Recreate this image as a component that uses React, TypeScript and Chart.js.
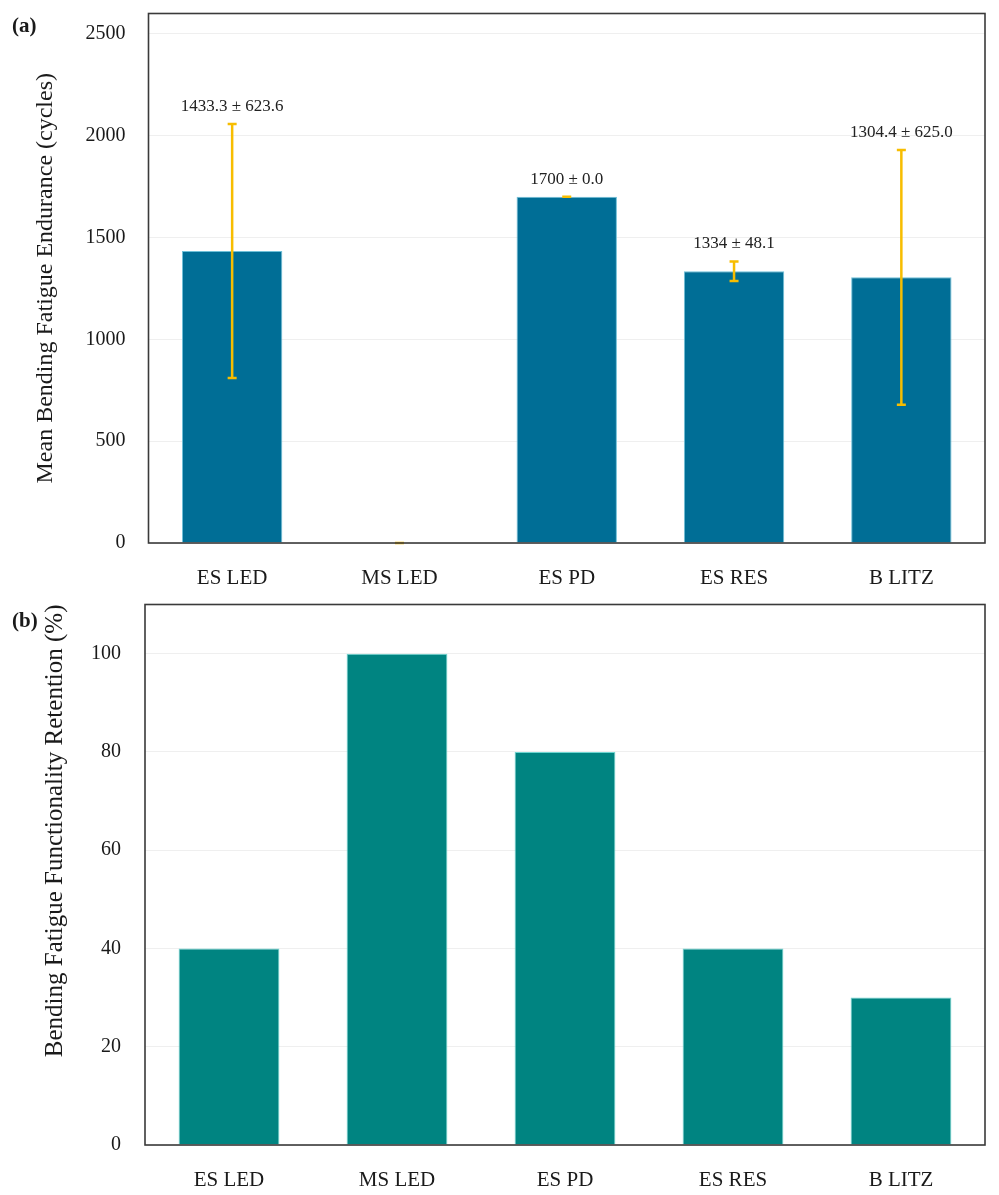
import { useEffect, useRef } from 'react'
import { Chart, registerables } from 'chart.js'
import type { Plugin } from 'chart.js'

Chart.register(...registerables)

const FONT = "'Liberation Serif', 'Times New Roman', serif"

const CATEGORIES = ['ES LED', 'MS LED', 'ES PD', 'ES RES', 'B LITZ']
const ENDURANCE_MEAN = [1433.3, 0, 1700, 1334, 1304.4]
const ENDURANCE_SD = [623.6, 0, 0, 48.1, 625.0]
const ENDURANCE_LABELS = ['1433.3 ± 623.6', '', '1700 ± 0.0', '1334 ± 48.1', '1304.4 ± 625.0']
const RETENTION = [40, 100, 80, 40, 30]

const ENDURANCE_TICKS = [0, 500, 1000, 1500, 2000, 2500]
const RETENTION_TICKS = [0, 20, 40, 60, 80, 100]

const frameBox: Plugin<'bar'> = {
  id: 'frameBox',
  afterDraw(chart) {
    const { ctx, chartArea: a } = chart
    ctx.save()
    ctx.strokeStyle = '#3a3a3a'
    ctx.lineWidth = 1.6
    ctx.strokeRect(a.left, a.top, a.right - a.left, a.bottom - a.top)
    ctx.restore()
  },
}

const errorBars: Plugin<'bar'> = {
  id: 'errorBars',
  afterDatasetsDraw(chart) {
    const { ctx } = chart
    const x = chart.scales.x
    const y = chart.scales.y
    ctx.save()
    ctx.strokeStyle = '#f7bd00'
    ctx.lineWidth = 2.5
    ENDURANCE_MEAN.forEach((m, i) => {
      const px = x.getPixelForValue(i)
      const top = y.getPixelForValue(m + ENDURANCE_SD[i])
      const bot = y.getPixelForValue(m - ENDURANCE_SD[i])
      ctx.beginPath()
      ctx.moveTo(px, top)
      ctx.lineTo(px, bot)
      ctx.moveTo(px - 4.5, top)
      ctx.lineTo(px + 4.5, top)
      ctx.moveTo(px - 4.5, bot)
      ctx.lineTo(px + 4.5, bot)
      ctx.stroke()
      if (ENDURANCE_LABELS[i]) {
        ctx.fillStyle = '#222'
        ctx.font = `17px ${FONT}`
        ctx.textAlign = 'center'
        ctx.textBaseline = 'bottom'
        ctx.fillText(ENDURANCE_LABELS[i], px, top - 9)
      }
    })
    ctx.restore()
  },
}

function buildOptions(opts: {
  max: number
  ticks: number[]
  title: string
  titleSize: number
  titleAlign: 'center' | 'end'
  titlePad: number
  yWidth: number
  xHeight: number
  top: number
  tickPad: number
}): any {
  return {
    responsive: true,
    maintainAspectRatio: false,
    animation: false,
    layout: { padding: { top: opts.top, right: 14, left: 0, bottom: 0 } },
    plugins: { legend: { display: false }, tooltip: { enabled: false } },
    scales: {
      x: {
        grid: { display: false, drawTicks: false },
        border: { display: false },
        ticks: { color: '#1a1a1a', font: { family: FONT, size: 21 }, padding: 23 },
        afterFit: (s: any) => {
          s.height = opts.xHeight
          s.paddingLeft = 0
          s.paddingRight = 0
        },
      },
      y: {
        min: 0,
        max: opts.max,
        grid: { color: '#efefef', lineWidth: 1, drawTicks: false },
        border: { display: false },
        ticks: {
          color: '#1a1a1a',
          font: { family: FONT, size: 20 },
          padding: opts.tickPad,
          callback: (v: number) => String(v),
        },
        afterBuildTicks: (s: any) => {
          s.ticks = opts.ticks.map((v) => ({ value: v }))
        },
        title: {
          display: true,
          text: opts.title,
          align: opts.titleAlign,
          color: '#1a1a1a',
          font: { family: FONT, size: opts.titleSize },
          padding: { top: opts.titlePad, bottom: 0 },
        },
        afterFit: (s: any) => {
          s.width = opts.yWidth
          s.paddingTop = 0
          s.paddingBottom = 0
        },
      },
    },
  }
}

function EnduranceChart() {
  const ref = useRef<HTMLCanvasElement>(null)
  useEffect(() => {
    if (!ref.current) return
    const chart = new Chart(ref.current, {
      type: 'bar',
      data: {
        labels: CATEGORIES,
        datasets: [
          {
            data: ENDURANCE_MEAN,
            backgroundColor: '#006e96',
            borderColor: '#6fc0d8',
            borderWidth: 1,
            barPercentage: 0.75,
            categoryPercentage: 0.8,
          },
        ],
      },
      options: buildOptions({
        max: 2600,
        ticks: ENDURANCE_TICKS,
        title: 'Mean Bending Fatigue Endurance (cycles)',
        titleSize: 24,
        titleAlign: 'center',
        titlePad: 31,
        yWidth: 148.5,
        xHeight: 52,
        top: 13.5,
        tickPad: 23,
      }),
      plugins: [errorBars, frameBox],
    })
    return () => chart.destroy()
  }, [])
  return (
    <div style={{ position: 'relative', width: 999, height: 595 }}>
      <canvas ref={ref} />
    </div>
  )
}

function RetentionChart() {
  const ref = useRef<HTMLCanvasElement>(null)
  useEffect(() => {
    if (!ref.current) return
    const chart = new Chart(ref.current, {
      type: 'bar',
      data: {
        labels: CATEGORIES,
        datasets: [
          {
            data: RETENTION,
            backgroundColor: '#008481',
            borderColor: '#6fd6d2',
            borderWidth: 1,
            barPercentage: 0.75,
            categoryPercentage: 0.8,
          },
        ],
      },
      options: buildOptions({
        max: 110,
        ticks: RETENTION_TICKS,
        title: 'Bending Fatigue Functionality Retention (%)',
        titleSize: 25,
        titleAlign: 'end',
        titlePad: 40,
        yWidth: 145,
        xHeight: 50,
        top: 9.5,
        tickPad: 24,
      }),
      plugins: [frameBox],
    })
    return () => chart.destroy()
  }, [])
  return (
    <div style={{ position: 'relative', width: 999, height: 600 }}>
      <canvas ref={ref} />
    </div>
  )
}

export default function App() {
  useEffect(() => {
    document.body.style.margin = '0'
    document.body.style.background = '#fff'
  }, [])
  const panel: React.CSSProperties = {
    position: 'absolute',
    left: 12,
    fontFamily: FONT,
    fontWeight: 'bold',
    fontSize: 21,
    color: '#1a1a1a',
    lineHeight: '24px',
    zIndex: 2,
  }
  return (
    <div style={{ position: 'relative', width: 999, height: 1195, background: '#fff' }}>
      <div style={{ ...panel, top: 13 }}>(a)</div>
      <div style={{ ...panel, top: 608 }}>(b)</div>
      <EnduranceChart />
      <RetentionChart />
    </div>
  )
}
